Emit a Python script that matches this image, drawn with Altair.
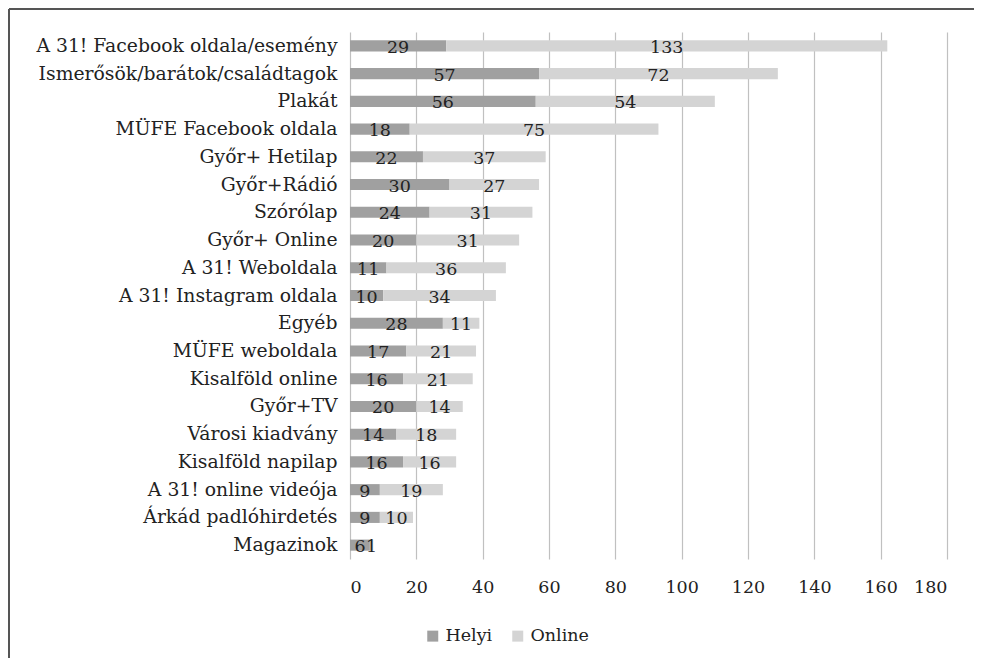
import altair as alt
import pandas as pd

categories = [
    "A 31! Facebook oldala/esemény",
    "Ismerősök/barátok/családtagok",
    "Plakát",
    "MÜFE Facebook oldala",
    "Győr+ Hetilap",
    "Győr+Rádió",
    "Szórólap",
    "Győr+ Online",
    "A 31! Weboldala",
    "A 31! Instagram oldala",
    "Egyéb",
    "MÜFE weboldala",
    "Kisalföld online",
    "Győr+TV",
    "Városi kiadvány",
    "Kisalföld napilap",
    "A 31! online videója",
    "Árkád padlóhirdetés",
    "Magazinok",
]
helyi = [29, 57, 56, 18, 22, 30, 24, 20, 11, 10, 28, 17, 16, 20, 14, 16, 9, 9, 6]
online = [133, 72, 54, 75, 37, 27, 31, 31, 36, 34, 11, 21, 21, 14, 18, 16, 19, 10, 1]
series = ["Helyi", "Online"]
colors = ["#a0a0a0", "#d4d4d4"]
x_ticks = [0, 20, 40, 60, 80, 100, 120, 140, 160, 180]

rows = []
for c, h, o in zip(categories, helyi, online):
    rows.append({"cat": c, "series": "Helyi", "value": h, "start": 0, "end": h})
    rows.append({"cat": c, "series": "Online", "value": o, "start": h, "end": h + o})
df = pd.DataFrame(rows)

FONT = "DejaVu Serif"
TXT = "#222222"

base = alt.Chart(df).encode(
    y=alt.Y("cat:N", sort=categories, title=None,
            scale=alt.Scale(paddingInner=0.6, paddingOuter=0.3),
            axis=alt.Axis(ticks=False, domain=False, labelFontSize=18.8,
                          labelColor=TXT, labelPadding=13, labelFont=FONT,
                          labelLimit=400)),
)

bars = base.mark_bar().encode(
    x=alt.X("start:Q", title=None,
            scale=alt.Scale(domain=[0, 180], nice=False),
            axis=alt.Axis(values=x_ticks, grid=True, gridColor="#c0c0c0",
                          gridWidth=1.2, domain=False, ticks=False,
                          labelFontSize=17.5, labelColor=TXT,
                          labelPadding=19, labelFont=FONT)),
    x2="end:Q",
    color=alt.Color("series:N", scale=alt.Scale(domain=series, range=colors),
                    legend=alt.Legend(title=None, orient="none", direction="horizontal",
                                      legendX=74, legendY=595, symbolType="square",
                                      symbolSize=121, labelFontSize=17.5, labelFont=FONT,
                                      labelColor=TXT, columnPadding=16, labelOffset=4,
                                      symbolStrokeWidth=0)),
)

labels = base.mark_text(baseline="middle", align="center", fontSize=17.5, font=FONT,
                        color=TXT, dy=2).transform_calculate(
    mid="(datum.start + datum.end) / 2"
).encode(
    x="mid:Q",
    text="value:Q",
)

frame_df = pd.DataFrame({"a": [0]})
top_line = alt.Chart(frame_df).mark_rule(color="#555555", strokeWidth=2).encode(
    x=alt.value(-341), x2=alt.value(800), y=alt.value(-23))
left_line = alt.Chart(frame_df).mark_rule(color="#555555", strokeWidth=2).encode(
    x=alt.value(-341), y=alt.value(-23), y2=alt.value(800))

chart = alt.layer(bars, labels, top_line, left_line).properties(
    width=597, height=527,
    autosize=alt.AutoSizeParams(type="none"),
    padding={"left": 342, "top": 24, "right": 27, "bottom": 99},
    background="white",
).configure_view(stroke=None)

chart.save("out.html", embed_options={"renderer": "svg", "actions": False})
